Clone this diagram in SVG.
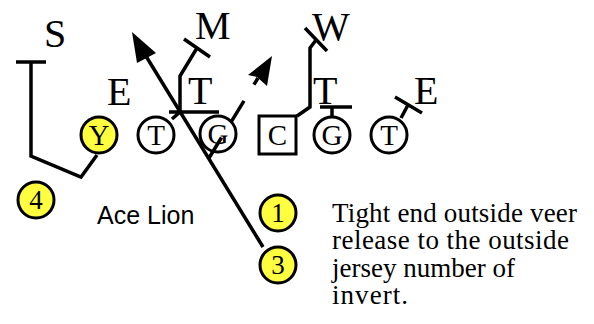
<svg xmlns="http://www.w3.org/2000/svg" width="594" height="324" viewBox="0 0 594 324">
<defs>
<style>
.ln{fill:none;stroke:#000;stroke-width:3.5;stroke-linecap:butt;stroke-linejoin:miter}
.pl{fill:#fff;stroke:#000;stroke-width:3}
.yl{fill:#ffff40;stroke:#000;stroke-width:3}
.lb{font-family:"Liberation Serif","Times New Roman",serif;font-size:40px;fill:#000}
.pt{font-family:"Liberation Serif","Times New Roman",serif;font-size:29px;fill:#000;text-anchor:middle}
.nm{font-family:"Liberation Serif","Times New Roman",serif;font-size:27px;fill:#000;text-anchor:middle}
.tx{font-family:"Liberation Serif","Times New Roman",serif;font-size:27px;fill:#000}
.ac{font-family:"Liberation Sans",Arial,sans-serif;font-size:25px;fill:#000}
</style>
</defs>
<rect width="594" height="324" fill="#fff"/>
<g id="labels">
<text class="lb" x="44" y="47">S</text>
<text class="lb" x="195" y="39">M</text>
<text class="lb" x="312" y="40">W</text>
<text class="lb" x="107" y="105">E</text>
<text class="lb" x="188" y="104">T</text>
<text class="lb" x="313" y="104">T</text>
<text class="lb" x="414" y="104">E</text>
</g>
<g id="Y"><circle class="yl" cx="99" cy="135" r="18"/><text class="pt" x="99" y="145">Y</text></g>
<g id="T1"><circle class="pl" cx="156" cy="135" r="18"/><text class="pt" x="156" y="145">T</text></g>
<g id="G1"><circle class="pl" cx="218" cy="134" r="18"/><text class="pt" x="218" y="144">G</text></g>
<g id="C"><rect class="pl" x="259" y="116" width="37" height="38"/><text class="pt" x="277.5" y="145">C</text></g>
<g id="G2"><circle class="pl" cx="332" cy="135" r="18"/><text class="pt" x="332" y="145">G</text></g>
<g id="T2"><circle class="pl" cx="389" cy="135" r="18"/><text class="pt" x="389" y="145">T</text></g>
<g id="n4"><circle class="yl" cx="36" cy="200" r="18"/><text class="nm" x="36" y="209">4</text></g>
<g id="n1"><circle class="yl" cx="278" cy="213" r="18"/><text class="nm" x="278" y="222">1</text></g>
<g id="n3"><circle class="yl" cx="278" cy="265" r="18"/><text class="nm" x="278" y="274">3</text></g>
<g id="connectors">
<path class="ln" d="M16,62 H46 M31,62 V156 L81,177 L97,155"/>
<path class="ln" d="M263,247 L141,48"/>
<polygon points="132,32 137,63 156,53" fill="#000"/>
<path class="ln" d="M172,119 L180,112 M169,112 H219 M180,113 V76 L197,48 M184,39 L210,57"/>
<path class="ln" d="M209,158 L258,78" stroke-dasharray="24,19"/>
<polygon points="272,56 248,75 257,77 267,86" fill="#000"/>
<path class="ln" d="M297,116 L310,107 V48 L316,40 M305,28 L327,51"/>
<path class="ln" d="M332,117 V107 M320,107 H352"/>
<path class="ln" d="M401,118 L408,105 M395,97 L422,113"/>
</g>
<g id="caption">
<text class="ac" x="97" y="224">Ace Lion</text>
<text class="tx" x="332" y="222" textLength="245" lengthAdjust="spacing">Tight end outside veer</text>
<text class="tx" x="332" y="249" textLength="237" lengthAdjust="spacing">release to the outside</text>
<text class="tx" x="332" y="277" textLength="183" lengthAdjust="spacing">jersey number of</text>
<text class="tx" x="332" y="304" textLength="76" lengthAdjust="spacing">invert.</text>
</g>
</svg>
